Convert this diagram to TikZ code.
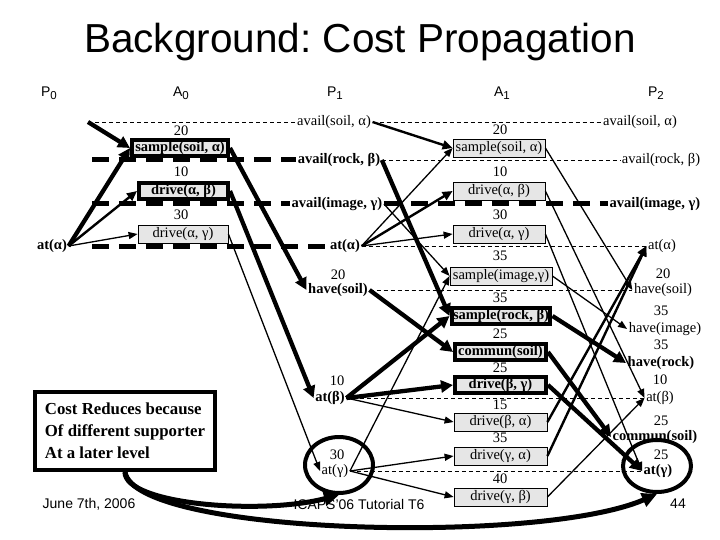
\documentclass[tikz,border=0pt]{standalone}
\usepackage{fontspec}
\setmainfont{Liberation Serif}
\setsansfont{Liberation Sans}
\usetikzlibrary{arrows.meta,shapes.geometric}
\definecolor{boxgray}{RGB}{230,230,230}
\newcommand{\hsub}[2]{#1\raisebox{-3pt}{\fontsize{11.5}{12}\selectfont #2}}
\tikzset{
  lbl/.style={font=\fontsize{14.5}{16}\selectfont, inner sep=1.5pt},
  lblb/.style={font=\fontsize{14.5}{16}\selectfont\bfseries, inner sep=1.5pt},
  num/.style={font=\fontsize{14.5}{15}\selectfont, inner sep=0.5pt},
  act/.style={draw, fill=boxgray, line width=0.8pt, minimum width=92pt, minimum height=18pt, inner sep=1.5pt, font=\fontsize{14.5}{16}\selectfont},
  actb/.style={draw, fill=boxgray, line width=4pt, minimum width=90pt, minimum height=16pt, inner sep=1.5pt, font=\fontsize{14.5}{16}\selectfont\bfseries},
  hdr/.style={font=\sffamily\fontsize{14}{16}\selectfont, inner sep=1pt},
  foot/.style={font=\sffamily\fontsize{14}{16}\selectfont, inner sep=1pt},
  mutexa/.style={dash pattern=on 4pt off 3pt, line width=0.8pt},
  mutexb/.style={dash pattern=on 17pt off 10pt, line width=5pt},
  wa/.style={line width=1.3pt, -{Triangle[length=9pt,width=7pt]}},
  wb/.style={line width=2.4pt, -{Triangle[length=10pt,width=9pt]}},
  wc/.style={line width=4.3pt, -{Triangle[length=12pt,width=12pt]}},
  ring/.style={draw, ellipse, line width=4pt},
  curvy/.style={line width=5pt, -{Triangle[length=15pt,width=14pt]}},
}
\begin{document}
\begin{tikzpicture}[x=1pt,y=-1pt]
\useasboundingbox (0,0) rectangle (720,540);

% title and headers
\node[font=\sffamily\fontsize{40.5}{48}\selectfont\frenchspacing, inner sep=0pt] (title) at (360,42) {Background: Cost Propagation};
\node[hdr] (hP0) at (49,93) {\hsub{P}{0}};
\node[hdr] (hA0) at (181,93) {\hsub{A}{0}};
\node[hdr] (hP1) at (335,93) {\hsub{P}{1}};
\node[hdr] (hA1) at (502,93) {\hsub{A}{1}};
\node[hdr] (hP2) at (656,93) {\hsub{P}{2}};

% free ends of the left mutex lines
\coordinate (m1) at (88,122);
\coordinate (m2) at (92,160);
\coordinate (m3) at (92,204);
\coordinate (m4) at (92,246);

% P0
\node[lblb] (p0at) at (52,246) {at(α)};

% P1
\node[lbl]  (p1as) at (334,122) {avail(soil, α)};
\node[lblb] (p1ar) at (339,160) {avail(rock, β)};
\node[lblb] (p1ai) at (337,204) {avail(image, γ)};
\node[lblb] (p1at) at (345,246) {at(α)};
\node[num]  (p1n1) at (338,275) {20};
\node[lblb] (p1hs) at (338,290) {have(soil)};
\node[num]  (p1n2) at (337,381) {10};
\node[lblb] (p1ab) at (330,398) {at(β)};
\node[num]  (p1n3) at (337,455) {30};
\node[lbl]  (p1ag) at (335,471) {at(γ)};

% P2
\node[lbl]  (p2as) at (640,122) {avail(soil, α)};
\node[lbl]  (p2ar) at (661,160) {avail(rock, β)};
\node[lblb] (p2ai) at (655,204) {avail(image, γ)};
\node[lbl]  (p2at) at (662,246) {at(α)};
\node[num]  (p2n1) at (663,274) {20};
\node[lbl]  (p2hs) at (663,290) {have(soil)};
\node[num]  (p2n2) at (661,311) {35};
\node[lbl]  (p2hi) at (665,329) {have(image)};
\node[num]  (p2n3) at (661,345) {35};
\node[lblb] (p2hr) at (661,363) {have(rock)};
\node[num]  (p2n4) at (660,380) {10};
\node[lbl]  (p2ab) at (660,398) {at(β)};
\node[num]  (p2n5) at (661,421) {25};
\node[lblb] (p2cs) at (655,437) {commun(soil)};
\node[num]  (p2n6) at (661,455) {25};
\node[lblb] (p2ag) at (658,471) {at(γ)};

% mutex dashed lines
\draw[mutexa] (m1) -- (p1as.west);
\draw[mutexa] (p1as.east) -- (p2as.west);
\draw[mutexb] (m2) -- (p1ar.west);
\draw[mutexa] (p1ar.east) -- (p2ar.west);
\draw[mutexb] (m3) -- (p1ai.west);
\draw[mutexb] (p1ai.east) -- (p2ai.west);
\draw[mutexb] (m4) -- (p1at.west);
\draw[mutexa] (p1at.east) -- (p2at.west);
\draw[mutexa] (p1hs.east) -- (p2hs.west);
\draw[mutexa] (p1ab.east) -- (p2ab.west);
\draw[mutexa] (p1ag.east) -- (p2ag.west);

% A0
\node[num] (a0n1) at (181,131) {20};
\node[actb, minimum width=96pt] (a0s) at (180,148) {sample(soil, α)};
\node[num] (a0n2) at (181,172) {10};
\node[actb, minimum width=89pt] (a0d1) at (183.5,191) {drive(α, β)};
\node[num] (a0n3) at (181,215) {30};
\node[act, minimum width=90pt] (a0d2) at (183,234) {drive(α, γ)};

% A1
\node[num] (a1n1) at (500,130) {20};
\node[act] (a1s1) at (499,148) {sample(soil, α)};
\node[num] (a1n2) at (500,172) {10};
\node[act] (a1d1) at (499,191) {drive(α, β)};
\node[num] (a1n3) at (500,215) {30};
\node[act] (a1d2) at (499,234) {drive(α, γ)};
\node[num] (a1n4) at (500,256) {35};
\node[act, minimum width=102pt] (a1si) at (501,276) {sample(image,γ)};
\node[num] (a1n5) at (500,298) {35};
\node[actb, minimum width=94pt] (a1sr) at (501,316) {sample(rock, β)};
\node[num] (a1n6) at (500,334) {25};
\node[actb, minimum width=91pt] (a1cs) at (500.5,352) {commun(soil)};
\node[num] (a1n7) at (500,368) {25};
\node[actb, minimum width=91pt] (a1dbg) at (500.5,385) {drive(β, γ)};
\node[num] (a1n8) at (500,405) {15};
\node[act, minimum width=93pt] (a1dba) at (500.5,422) {drive(β, α)};
\node[num] (a1n9) at (500,438) {35};
\node[act, minimum width=93pt] (a1dga) at (500.5,456) {drive(γ, α)};
\node[num] (a1n10) at (500,479) {40};
\node[act, minimum width=93pt] (a1dgb) at (500.5,497) {drive(γ, β)};

% P0 -> A0
\draw[wc] (m1) -- (a0s.west);
\draw[wc] (p0at.east) -- (a0s.west);
\draw[wb] (p0at.east) -- (a0d1.west);
\draw[wa] (p0at.east) -- (a0d2.west);
% A0 -> P1
\draw[wc] (a0s.east) -- (p1hs.west);
\draw[wc] (a0d1.east) -- (p1ab.west);
\draw[wa] (a0d2.east) -- (p1ag.west);
% P1 -> A1
\draw[wb] (p1as.east) -- (a1s1.west);
\draw[wc] (p1ar.east) -- (a1sr.west);
\draw[wa] (p1ai.east) -- (a1si.west);
\draw[wa] (p1at.east) -- (a1s1.west);
\draw[wb] (p1at.east) -- (a1d1.west);
\draw[wa] (p1at.east) -- (a1d2.west);
\draw[wc] (p1hs.east) -- (a1cs.west);
\draw[wc] (p1ab.east) -- (a1sr.west);
\draw[wc] (p1ab.east) -- (a1dbg.west);
\draw[wa] (p1ab.east) -- (a1dba.west);
\draw[wa] (p1ag.east) -- (a1si.west);
\draw[wa] (p1ag.east) -- (a1dga.west);
\draw[wa] (p1ag.east) -- (a1dgb.west);
% A1 -> P2
\draw[wa] (a1s1.east) -- (p2hs.west);
\draw[wa] (a1d1.east) -- (p2ab.west);
\draw[wa] (a1d2.east) -- (p2ag.west);
\draw[wa] (a1si.east) -- (p2hi.west);
\draw[wc] (a1sr.east) -- (p2hr.west);
\draw[wc] (a1cs.east) -- (p2cs.west);
\draw[wc] (a1dbg.east) -- (p2ag.west);
\draw[wb] (a1dba.east) -- (p2at.west);
\draw[wb] (a1dga.east) -- (p2at.west);
\draw[wa] (a1dgb.east) -- (p2ab.west);

% footer
\node[foot] (date) at (89,504) {June 7th, 2006};
\node[foot] (conf) at (359,504) {ICAPS'06 Tutorial T6};
\node[foot] (pg) at (678,504) {44};

% rings
\node[ring, minimum width=68pt, minimum height=56pt] (c1) at (339,465) {};
\node[ring, minimum width=68pt, minimum height=52pt] (c2) at (657,466) {};

% cost box
\node[draw, fill=white, line width=4pt, minimum width=180pt, minimum height=78pt, align=left,
      font=\fontsize{16.8}{22}\selectfont\bfseries] (cost) at (125,431)
  {Cost Reduces because\\Of different supporter\\At a later level};

\draw[curvy] (cost.south) .. controls (125,505) and (262,515) .. (c1.south);
\draw[curvy] (cost.south) .. controls (135,535) and (540,545) .. (c2.south);
\end{tikzpicture}
\end{document}
